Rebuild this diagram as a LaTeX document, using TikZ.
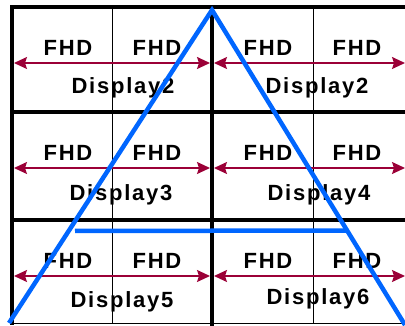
\documentclass[tikz,border=0pt]{standalone}
\usepackage{fontspec}
\setmainfont{Liberation Sans}
\newfontfamily\lblfont{Liberation Sans}[LetterSpace=8]
\usetikzlibrary{arrows.meta,calc}
\definecolor{wallblue}{RGB}{0,102,255}
\definecolor{spanred}{RGB}{155,0,55}

\begin{document}
\begin{tikzpicture}[x=1pt,y=-1pt,
    lbl/.style={font=\lblfont\bfseries\fontsize{22}{22}\selectfont, inner sep=0pt},
    frame/.style={line width=3.5pt},
    seam/.style={line width=1pt},
    span/.style={spanred, line width=1.6pt,
      {Stealth[length=13pt,width=12pt,inset=2pt]}-{Stealth[length=13pt,width=12pt,inset=2pt]}},
    tri/.style={wallblue, line width=4.5pt}]
    \useasboundingbox (0,0) rectangle (405,326);

    % video wall grid
    \draw[frame] (12,7) -- (405,7);
    \draw[frame] (12,112) -- (405,112);
    \draw[frame] (12,220) -- (405,220);
    \draw[seam] (12,324) -- (405,324);
    \draw[frame] (12,5.25) -- (12,325);
    \draw[frame] (212,5.25) -- (212,326);
    \draw[seam] (112,7) -- (112,324);
    \draw[seam] (313,7) -- (313,324);

    % FHD spans in every display
    \foreach \top [count=\r] in {7,112,220} {
      \foreach \left/\right [count=\c] in {12/210,212/405} {
        \coordinate (a\r\c w) at (\left+2,\top+56);
        \coordinate (a\r\c e) at (\right,\top+56);
        \draw[span] (a\r\c w) -- (a\r\c e);
        \node[lbl] (f\r\c a) at (\left+56,\top+41) {FHD};
        \node[lbl] (f\r\c b) at (\left+145,\top+41) {FHD};
      }
    }

    % display names
    \node[lbl] (d11) at (123,88) {Display2};
    \node[lbl] (d12) at (317,88) {Display2};
    \node[lbl] (d21) at (121,195) {Display3};
    \node[lbl] (d22) at (319,195) {Display4};
    \node[lbl] (d31) at (122,302) {Display5};
    \node[lbl] (d32) at (318,299) {Display6};

    % blue triangle
    \coordinate (apex) at (212,10);
    \coordinate (baseL) at (9,323);
    \coordinate (baseR) at (405,325);
    \draw[tri, line join=miter] (baseL) -- (apex) -- (baseR);
    \coordinate (barL) at (75,231);
    \draw[tri] (barL) -- ($(apex)!0.7!(baseR)$);
\end{tikzpicture}
\end{document}
